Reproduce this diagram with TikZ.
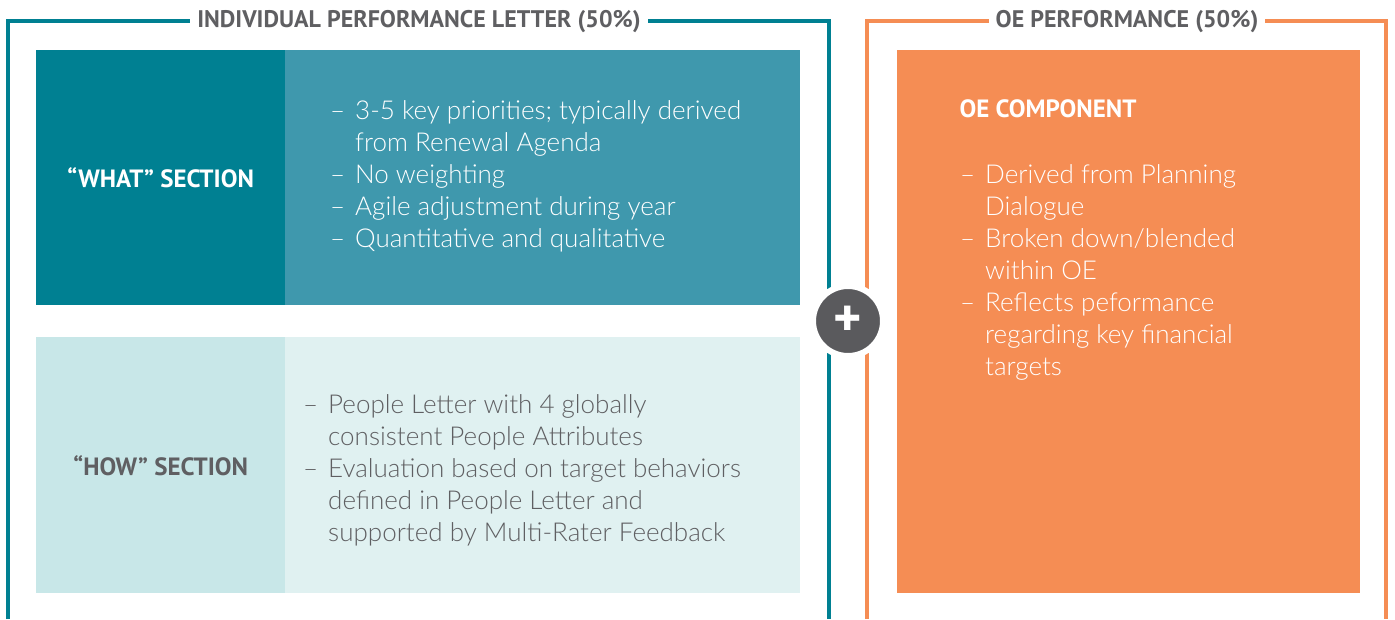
\documentclass[tikz,border=0pt]{standalone}
\usepackage{fontspec}
\setmainfont{Lato Light}
\newfontfamily\headfont{PT Sans}
\usetikzlibrary{positioning}

\definecolor{tealdark}{RGB}{0,128,146}
\definecolor{tealmid}{RGB}{63,152,173}
\definecolor{teallight}{RGB}{200,231,232}
\definecolor{tealpale}{RGB}{224,241,241}
\definecolor{oeorange}{RGB}{245,141,84}
\definecolor{textgray}{RGB}{95,95,98}

\newcommand{\itm}{\makebox[25pt][l]{–}}
\newcommand{\cnt}{\hspace*{25pt}}

\begin{document}
\begin{tikzpicture}[x=1pt,y=-1pt,
  frame/.style={line width=4pt},
  title/.style={fill=white,inner xsep=7pt,inner ysep=2pt,text=textgray,
    font=\headfont\bfseries\fontsize{24}{24}\selectfont},
  box/.style={anchor=north west,inner sep=0pt,minimum width=#1},
  head/.style={font=\headfont\bfseries\fontsize{25}{25}\selectfont},
  body/.style={anchor=north west,align=left,inner sep=0pt,
    font=\fontsize{26}{32}\selectfont}]

  \useasboundingbox (0,0) rectangle (1395,619);

  % outer frames, open at the bottom
  \draw[frame,tealdark] (8,619) -- (8,21) -- (829,21) -- (829,619);
  \draw[frame,oeorange] (867,619) -- (867,21) -- (1386,21) -- (1386,619);
  \node[title] (t1) at (419,22) {INDIVIDUAL PERFORMANCE LETTER (50\%)};
  \node[title] (t2) at (1127,22) {OE PERFORMANCE (50\%)};

  % what section
  \node[box=249pt,minimum height=255pt,fill=tealdark] (whatl) at (36,50) {};
  \node[box=515pt,minimum height=255pt,fill=tealmid] (whatr) at (285,50) {};
  \node[head,text=white] (whatt) at (whatl.center) {“WHAT” SECTION};
  \node[body,text=white] (whatb) at (330,100) {%
    \itm 3-5 key priorities; typically derived\\
    \cnt from Renewal Agenda\\
    \itm No weighting\\
    \itm Agile adjustment during year\\
    \itm Quantitative and qualitative};

  % how section
  \node[box=249pt,minimum height=256pt,fill=teallight] (howl) at (36,337) {};
  \node[box=515pt,minimum height=256pt,fill=tealpale] (howr) at (285,337) {};
  \node[head,text=textgray] (howt) at (howl.center) {“HOW” SECTION};
  \node[body,text=textgray] (howb) at (303,394) {%
    \itm People Letter with 4 globally\\
    \cnt consistent People Attributes\\
    \itm Evaluation based on target behaviors\\
    \cnt defined in People Letter and\\
    \cnt supported by Multi-Rater Feedback};

  % oe component
  \node[box=463pt,minimum height=543pt,fill=oeorange] (oe) at (897,50) {};
  \node[head,text=white,anchor=west] (oet) at (956,109) {OE COMPONENT};
  \node[body,text=white] (oeb) at (960,164) {%
    \itm Derived from Planning\\
    \cnt Dialogue\\
    \itm Broken down/blended\\
    \cnt within OE\\
    \itm Reflects peformance\\
    \cnt regarding key financial\\
    \cnt targets};

  % plus sign between the two halves
  \node[circle,fill=textgray!95!black,draw=white,line width=6pt,minimum size=70pt,
    text=white,font=\headfont\bfseries\fontsize{54}{54}\selectfont,inner sep=0pt]
    (plus) at (848,321) {+};

\end{tikzpicture}
\end{document}
